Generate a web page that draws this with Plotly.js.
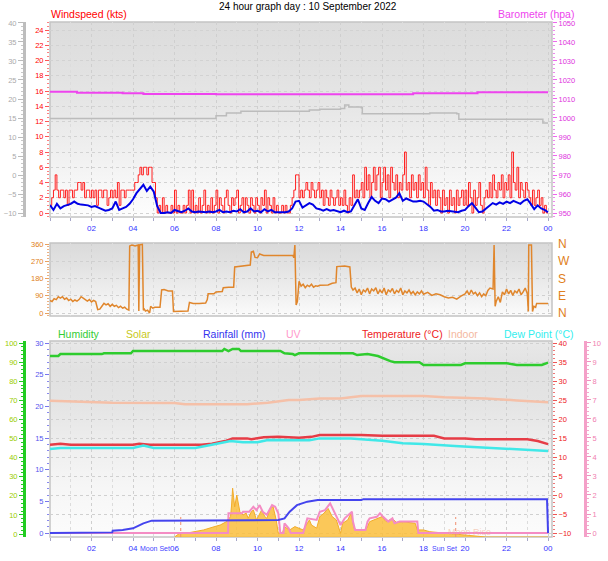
<!DOCTYPE html>
<html><head><meta charset="utf-8">
<script src="https://cdn.plot.ly/plotly-3.0.1.min.js"></script>
<style>html,body{margin:0;padding:0;background:#fff}#chart{width:608px;height:561px}</style>
</head><body><div id="chart"></div>
<script>
// ---------------- DATA ----------------
const tickHours = [2,4,6,8,10,12,14,16,18,20,22,24];
const tickLabels = ['02','04','06','08','10','12','14','16','18','20','22','00'];

// wind gust (kts), 5-minute samples from 00:00
const gustStepH = 1/12;
const gustKts = [
1,2,3,5,3,2,3,3,2,3,1,3,
3,2,3,3,4,4,3,4,2,3,3,2,
3,2,3,1,3,3,2,3,3,1,2,3,
2,3,2,4,1,3,3,2,3,3,3,3,
3,4,4,5,6,5,6,6,5,6,6,4,
4,2,0,1,0,2,0,1,0,0,1,0,
3,0,1,0,0,1,0,1,3,0,3,0,
1,0,2,0,1,3,0,1,0,2,0,1,
3,0,2,1,0,2,3,1,0,2,1,2,
3,0,1,2,0,2,1,0,2,1,0,2,
1,0,2,1,3,0,2,1,0,2,0,1,
0,0,1,0,1,0,0,1,2,3,5,5,
2,3,2,3,4,3,2,4,3,2,3,4,
2,3,1,3,2,1,3,2,1,2,3,1,
2,1,3,1,0,2,1,5,2,3,2,3,
4,2,6,3,5,2,4,6,3,5,6,2,
4,6,3,5,2,6,4,3,5,2,4,3,
5,8,3,4,2,5,3,4,2,5,3,4,
2,6,3,1,4,2,3,1,3,2,0,3,
1,2,0,3,1,2,0,3,1,2,3,1,
3,1,4,2,0,3,1,2,4,1,0,2,
3,2,4,2,5,3,2,4,3,5,2,4,
3,5,2,8,4,3,6,2,4,3,2,4,
3,2,1,3,1,2,3,1,2,0,1,0,
0];

// average wind speed (kts), 10-minute samples from 00:00
const avgStepH = 1/6;
const avgKts = [
1.05,0.4,1.2,0.6,0.9,1.0,
1.2,1.5,1.2,1.1,1.0,1.0,
0.8,0.9,0.7,0.5,0.3,0.4,
0.6,1.5,0.4,0.6,0.8,1.2,
1.8,2.6,3.2,3.7,2.9,3.45,
2.8,0.9,0.0,0.0,0.1,0.0,
0.4,0.2,0.1,0.3,0.6,0.2,
0.1,0.2,0.1,0.1,0.2,0.1,
0.2,0.4,0.1,0.2,0.1,0.3,
0.2,0.5,0.1,0.2,0.6,0.2,
0.3,0.1,0.5,0.2,0.4,0.1,
0.1,0.1,0.1,0.2,0.6,1.5,
1.6,0.7,1.0,1.3,1.1,0.6,
0.5,0.3,0.5,0.3,0.4,0.2,
0.1,0.3,0.1,0.2,1.0,1.8,
0.6,0.4,1.3,2.1,1.6,1.3,
1.9,1.8,1.5,1.7,2.0,2.6,
1.6,1.9,1.7,1.5,1.5,1.6,
1.5,1.2,0.8,0.3,0.4,0.2,
0.2,0.3,0.2,0.2,0.1,0.3,
0.4,0.9,1.3,0.7,0.1,0.2,
0.6,0.9,1.3,1.1,1.4,1.2,
1.5,1.3,1.6,1.4,1.2,1.6,
1.8,1.2,0.5,1.0,0.6,0.4,
0.1];

// grey series (left grey scale)
const greyHours = [0,7.5,8.0,8.5,9.0,9.2,12.0,12.5,13.0,14.0,14.2,14.4,15.0,15.05,18.3,19.6,19.7,23.7,23.75,24.0];
const greyVals  = [14.9,14.9,15.6,16.3,16.3,16.8,16.8,17.1,17.3,17.5,18.4,17.9,17.7,16.1,16.3,16.1,14.7,14.7,13.7,13.7];

// barometer (hpa)
const baroHours = [0,1.3,3.5,4.5,8.0,12.0,17.5,20.5,20.6,24.0];
const baroHpa   = [1013.8,1013.3,1013.0,1012.6,1012.5,1012.5,1013.0,1013.0,1013.6,1013.6];

// wind direction (degrees)
const dirHours = [0.00,0.10,0.20,0.30,0.40,0.50,0.60,0.70,0.80,0.90,1.00,1.10,1.20,1.30,1.40,1.50,1.60,1.70,1.80,1.90,2.00,2.10,2.20,2.30,2.40,2.50,2.60,2.70,2.80,2.90,3.00,3.10,3.20,3.30,3.40,3.50,3.60,3.70,3.80,3.84,3.95,4.10,4.25,4.28,4.32,4.45,4.50,4.55,4.60,4.70,4.80,4.85,4.95,5.05,5.20,5.30,5.38,5.50,5.70,5.90,5.95,6.20,6.50,6.65,6.72,6.90,7.20,7.50,7.58,7.62,7.90,8.00,8.30,8.35,8.60,8.85,8.90,9.20,9.50,9.65,9.70,9.80,9.88,10.00,10.10,10.20,10.30,11.70,11.75,11.80,11.86,11.92,12.00,12.10,12.20,12.30,12.40,12.50,12.60,12.70,12.80,12.90,13.00,13.40,13.60,13.78,13.82,14.20,14.45,14.52,14.60,14.70,14.80,14.90,15.00,15.10,15.20,15.30,15.40,15.50,15.60,15.70,15.80,15.90,16.00,16.10,16.20,16.30,16.40,16.50,16.60,16.70,16.80,16.90,17.00,17.10,17.20,17.30,17.40,17.50,17.60,17.70,17.80,17.90,18.00,18.20,18.40,18.60,18.80,19.00,19.20,19.40,19.60,19.80,20.00,20.10,20.20,20.30,20.40,20.50,20.60,20.70,20.80,20.90,21.00,21.10,21.20,21.35,21.40,21.45,21.50,21.60,21.70,21.80,21.90,22.00,22.10,22.20,22.30,22.40,22.50,22.60,22.70,22.80,22.90,23.00,23.05,23.07,23.20,23.25,23.32,23.40,23.45,24.00];
const dirDeg = [65,60,75,70,85,78,85,72,78,65,72,60,68,62,70,85,78,70,62,70,58,66,60,18,20,35,50,42,48,35,45,35,40,28,35,25,30,20,15,350,355,350,355,10,355,358,15,20,10,15,0,35,25,30,28,30,120,122,115,115,8,8,8,10,55,50,50,52,70,100,100,110,112,132,135,135,240,245,248,250,318,322,290,288,308,305,300,300,288,355,42,60,165,140,150,132,145,138,150,135,142,140,145,146,155,158,242,245,240,135,120,130,105,125,95,120,110,130,100,125,115,132,100,120,105,130,95,120,110,128,100,118,108,130,95,115,105,120,100,112,95,110,100,115,98,108,92,100,95,85,78,82,72,88,100,115,95,120,100,108,90,105,85,100,90,118,130,125,355,35,60,85,55,110,95,125,100,118,92,115,105,125,95,110,130,100,8,355,355,8,35,30,50,50];

// humidity (%)
const humHours = [0,0.4,0.5,2.5,2.6,3.9,4.0,8.3,8.4,8.6,8.8,9.1,9.2,11.1,11.3,11.7,11.8,12.0,14.6,14.8,15.3,15.8,16.4,16.6,17.8,18.0,19.8,20.0,22.0,22.5,23.7,24.0];
const humPct   = [93.2,93.2,94.2,94.2,94.6,94.6,95.8,95.8,96.9,95.8,96.9,96.9,95.8,95.8,94.6,94.2,93.7,94.6,94.6,93.7,94.2,93.2,90.5,89.9,89.9,88.5,88.5,89.4,89.4,88.5,88.5,89.7];

// outdoor temperature (°C)
const tempHours = [0,0.5,1.0,4.0,4.3,4.8,7.3,7.8,8.5,8.8,9.5,9.7,10.3,11.0,12.0,12.6,13.0,15.0,16.0,18.5,19.0,20.0,20.5,23.0,23.5,24.0];
const tempC     = [13.2,13.5,13.2,13.2,13.5,13.2,13.2,13.5,14.3,14.9,14.9,14.7,15.2,15.3,15.1,15.3,15.8,15.8,15.6,15.6,14.9,14.9,14.7,14.7,14.2,13.4];

// dew point (°C)
const dewHours = [0,0.5,4.0,4.5,5.0,7.0,7.8,8.7,9.3,10.0,10.5,12.0,12.5,13.0,14.5,15.0,16.0,17.0,18.0,19.5,21.0,22.0,23.0,24.0];
const dewC     = [12.1,12.4,12.4,13.0,12.4,12.4,13.2,14.2,13.9,13.9,14.5,14.3,14.4,14.9,14.9,14.7,14.3,13.6,13.4,12.9,12.5,12.3,12.0,11.6];

// indoor temperature (°C)
const indoorHours = [0,3.0,6.0,6.5,9.5,10.5,11.5,12.0,13.0,14.0,15.0,18.0,19.0,21.0,22.5,24.0];
const indoorC     = [24.8,24.3,24.2,23.9,23.9,24.3,25.0,25.0,25.4,25.4,26.05,26.05,25.7,25.4,24.9,24.4];

// rainfall (mm, cumulative)
const rainHours = [0,2.0,2.02,3.0,3.02,3.5,4.0,4.5,4.9,11.0,11.3,11.55,11.9,12.4,12.9,15.0,15.1,23.95,24.0];
const rainMm    = [0,0,0.1,0.1,0.36,0.47,0.74,1.53,1.95,2.05,2.3,3.36,4.4,4.95,5.2,5.2,5.35,5.35,0];

// solar radiation (W/m²)
const solarHours = [6.0,6.25,6.6,7.2,7.4,7.9,8.2,8.5,8.7,8.75,8.8,8.85,8.9,9.0,9.1,9.15,9.3,9.45,9.55,9.7,9.8,9.95,10.2,10.35,10.45,10.6,10.75,10.9,11.0,11.2,11.3,11.55,11.8,12.0,12.2,12.5,12.6,12.85,13.0,13.2,13.4,13.6,13.8,14.0,14.1,14.35,14.5,14.65,14.8,15.2,15.3,15.4,15.75,16.0,16.2,16.5,16.7,17.0,17.35,17.6,17.7,18.0,18.3,18.8,19.3,19.6,20.0,20.5,21.0,24.0];
const solarWm2   = [0,19,20,32,36,52,61,78,104,163,249,200,154,214,150,129,112,122,95,129,138,87,138,104,95,146,155,87,20,20,52,36,53,45,36,87,61,45,104,121,146,104,87,19,70,87,121,44,36,36,53,78,95,104,78,95,73,78,73,70,36,36,27,22,19,14,10,5,0,0];

// UV index
const uvHours = [0,8.58,8.6,9.25,9.3,9.6,9.8,9.95,10.1,10.25,10.45,10.7,10.85,11.0,11.1,11.25,11.3,11.5,11.6,12.2,12.4,12.85,13.0,13.25,13.5,13.65,13.8,14.0,14.2,14.55,14.6,14.7,15.2,15.3,15.4,15.75,15.9,16.05,16.3,16.5,16.6,16.85,17.7,17.75,24.0];
const uvIdx   = [0,0,1.04,1.04,1.12,1.12,1.38,1.2,1.47,1.12,0.96,1.47,1.38,1.04,0,0,0.51,0.25,0,0,0.77,0.69,1.12,1.2,1.56,1.2,0.85,0.42,0.77,1.12,0.6,0.16,0.16,0.6,0.77,0.85,1.04,0.85,0.6,0.77,0.51,0.6,0.6,0,0];

// astronomical events
const eventNames = ['Moon Set','Sun Set'];
const eventHours = [6.3, 19.55];
const moonRiseHour = 20.2;

// ---------------- HELPERS ----------------
const W = 608, H = 561;
const px = v => v / W;
const py = v => 1 - v / H;
const seq = (n, step) => Array.from({length: n}, (_, i) => i * step);

const P1 = [py(217), py(22)];
const P2 = [py(316), py(243)];
const P3 = [py(537), py(341)];
const XD = [px(50), px(552)];
const FONT = 'Liberation Sans, Arial, sans-serif';

function grad(stops) {
  const s = stops.map(([o, c]) => `<stop offset="${o}" stop-color="${c}"/>`).join('');
  const svg = `<svg xmlns="http://www.w3.org/2000/svg" width="10" height="100" viewBox="0 0 10 100" preserveAspectRatio="none"><defs><linearGradient id="g" x1="0" y1="0" x2="0" y2="1">${s}</linearGradient></defs><rect x="0" y="0" width="10" height="100" fill="url(#g)"/></svg>`;
  return 'data:image/svg+xml;base64,' + btoa(svg);
}
function bgImage(dom, stops) {
  return {source: grad(stops), xref: 'paper', yref: 'paper', x: XD[0], y: dom[1],
    sizex: XD[1] - XD[0], sizey: dom[1] - dom[0], sizing: 'stretch', xanchor: 'left', yanchor: 'top', layer: 'below'};
}

// ---------------- TRACES ----------------
const traces = [
  {x: seq(gustKts.length, gustStepH), y: gustKts, xaxis: 'x', yaxis: 'y', mode: 'lines',
   line: {color: '#ff2020', width: 1, shape: 'hv'}, hoverinfo: 'skip'},
  {x: seq(avgKts.length, avgStepH), y: avgKts, xaxis: 'x', yaxis: 'y', mode: 'lines',
   line: {color: '#0000e6', width: 2}, hoverinfo: 'skip'},
  {x: greyHours, y: greyVals, xaxis: 'x', yaxis: 'y2', mode: 'lines',
   line: {color: '#bcbcbc', width: 1.5, shape: 'hv'}, hoverinfo: 'skip'},
  {x: baroHours, y: baroHpa, xaxis: 'x', yaxis: 'y3', mode: 'lines',
   line: {color: '#ee44ee', width: 2, shape: 'hv'}, hoverinfo: 'skip'},
  {x: dirHours, y: dirDeg, xaxis: 'x2', yaxis: 'y4', mode: 'lines',
   line: {color: '#e0862c', width: 1.5}, hoverinfo: 'skip'},
  {x: [0], y: [0], xaxis: 'x2', yaxis: 'y5', mode: 'markers', marker: {opacity: 0}, hoverinfo: 'skip'},
  {x: solarHours, y: solarWm2, xaxis: 'x3', yaxis: 'y6', mode: 'lines', fill: 'tozeroy',
   fillcolor: 'rgba(250,190,60,0.85)', line: {color: '#f2ac2a', width: 1}, hoverinfo: 'skip'},
  {x: uvHours, y: uvIdx, xaxis: 'x3', yaxis: 'y7', mode: 'lines',
   line: {color: '#f48cc4', width: 2}, hoverinfo: 'skip'},
  {x: rainHours, y: rainMm, xaxis: 'x3', yaxis: 'y8', mode: 'lines',
   line: {color: '#4444ee', width: 2}, hoverinfo: 'skip'},
  {x: humHours, y: humPct, xaxis: 'x3', yaxis: 'y9', mode: 'lines',
   line: {color: '#2ecc2e', width: 2.5}, hoverinfo: 'skip'},
  {x: indoorHours, y: indoorC, xaxis: 'x3', yaxis: 'y10', mode: 'lines',
   line: {color: '#f5c0a8', width: 2.5}, hoverinfo: 'skip'},
  {x: tempHours, y: tempC, xaxis: 'x3', yaxis: 'y10', mode: 'lines',
   line: {color: '#e63c46', width: 2.5}, hoverinfo: 'skip'},
  {x: dewHours, y: dewC, xaxis: 'x3', yaxis: 'y10', mode: 'lines',
   line: {color: '#40e8e8', width: 2.5}, hoverinfo: 'skip'}
];

// ---------------- LAYOUT ----------------
const tf = (c, s) => ({family: FONT, size: s || 7.5, color: c});
const minorT = (d, c, len) => ({dtick: d, tick0: 0, ticks: 'outside', ticklen: len || 2, tickcolor: c, showgrid: false});
const xBase = (anchor, labels) => ({
  domain: XD, range: [0, 24.19], anchor: anchor, tickvals: tickHours, ticktext: tickLabels,
  showticklabels: labels, tickfont: tf('#3333ff', 8), ticks: labels ? 'outside' : '', ticklen: 3, tickcolor: '#a8a8c8',
  showgrid: true, gridcolor: '#cfcfcf', griddash: 'dot', gridwidth: 1, zeroline: false, showline: false, fixedrange: true,
  minor: {dtick: 1, tick0: 0, ticks: labels ? 'outside' : '', ticklen: 3, tickcolor: '#a8a8c8', showgrid: true, gridcolor: '#dcdcdc', griddash: 'dot'}
});

const textAnn = (txt, x, y, color, size, anchor) => ({text: txt, x: px(x), y: py(y), xref: 'paper', yref: 'paper',
  showarrow: false, xanchor: anchor || 'left', yanchor: 'middle', font: {family: FONT, size: size || 10.5, color: color}, borderpad: 0});

const annotations = [
  textAnn('24 hour graph day : 10 September 2022', 308, 6, '#000000', 10, 'center'),
  textAnn('Windspeed (kts)', 50, 14, '#ff0000'),
  textAnn('Barometer (hpa)', 497, 14, '#ee44ee'),
  textAnn('Humidity', 57, 334, '#33cc33'),
  textAnn('Solar', 125, 334, '#c8c820'),
  textAnn('Rainfall (mm)', 202, 334, '#3333ee'),
  textAnn('UV', 285, 334, '#ff99cc'),
  textAnn('Temperature (°C)', 361, 334, '#ee2222'),
  textAnn('Indoor', 447, 334, '#f4b8a0'),
  textAnn('Dew Point (°C)', 503, 334, '#33eeee'),
  {text: 'Moon Rise', x: moonRiseHour, xref: 'x3', y: py(532), yref: 'paper', showarrow: false, xanchor: 'center', yanchor: 'middle',
   font: {family: FONT, size: 9, color: 'rgba(240,170,140,0.55)'}}
];
const eventShift = [-26, -11];
eventNames.forEach((n, i) => annotations.push({text: n, x: eventHours[i], xref: 'x3', y: py(548), yref: 'paper',
  showarrow: false, xanchor: 'center', yanchor: 'middle', xshift: eventShift[i], borderpad: 0,
  font: {family: FONT, size: 7, color: '#4444ff'}}));

const shapes = [];
[P1, P2, P3].forEach(d => shapes.push({type: 'rect', xref: 'paper', yref: 'paper', x0: XD[0], x1: XD[1], y0: d[0], y1: d[1],
  line: {color: '#c4c4c4', width: 1.5}, fillcolor: 'rgba(0,0,0,0)', layer: 'below'}));
eventHours.forEach(h => shapes.push({type: 'line', xref: 'x3', yref: 'paper', x0: h, x1: h, y0: P3[0], y1: py(517),
  line: {color: '#f09070', width: 1, dash: 'dot'}, layer: 'above'}));

const layout = {
  width: W, height: H, margin: {l: 0, r: 0, t: 0, b: 0}, showlegend: false,
  paper_bgcolor: '#ffffff', plot_bgcolor: 'rgba(0,0,0,0)', font: {family: FONT},
  xaxis: xBase('y', true),
  xaxis2: xBase('y4', false),
  xaxis3: xBase('y6', true),
  yaxis: {domain: P1, anchor: 'x', range: [-0.525, 25.05], tickvals: [0,2,4,6,8,10,12,14,16,18,20,22,24],
    tickfont: tf('#ff0000'), ticks: 'outside', ticklen: 4, tickcolor: '#ff5555', minor: minorT(0.5, '#ff8080'),
    showgrid: true, gridcolor: '#d2d2d2', griddash: 'dot', zeroline: false, showline: false, fixedrange: true},
  yaxis2: {overlaying: 'y', anchor: 'free', position: px(24), side: 'left', range: [-11.05, 40.26], dtick: 5, tick0: 0,
    tickfont: tf('#aaaaaa'), ticks: 'outside', ticklen: 5, tickcolor: '#bbbbbb', minor: minorT(1, '#c8c8c8', 2.5),
    showline: true, linecolor: '#bdbdbd', linewidth: 3, showgrid: false, zeroline: false, fixedrange: true},
  yaxis3: {overlaying: 'y', anchor: 'x', side: 'right', range: [947.9, 1050.5], dtick: 10, tick0: 950,
    tickfont: tf('#dd33dd'), ticks: 'outside', ticklen: 4, tickcolor: '#ee66ee', minor: minorT(2, '#ee88ee'),
    showgrid: false, zeroline: false, fixedrange: true},
  yaxis4: {domain: P2, anchor: 'x2', range: [-15.6, 365.2], tickvals: [0, 90, 180, 270, 360],
    tickfont: tf('#e08020'), ticks: 'outside', ticklen: 4, tickcolor: '#e8a060', minor: minorT(15, '#eeb080'),
    showgrid: true, gridcolor: '#d0d0d0', griddash: 'dot', zeroline: false, fixedrange: true},
  yaxis5: {overlaying: 'y4', anchor: 'x2', side: 'right', range: [-15.6, 365.2], tickvals: [0, 90, 180, 270, 360],
    ticktext: ['N', 'E', 'S', 'W', 'N'], tickfont: tf('#e08020', 12), ticks: '', ticklabelstandoff: 5,
    showgrid: false, zeroline: false, fixedrange: true},
  yaxis6: {domain: P3, anchor: 'x3', range: [0, 1000], visible: false, fixedrange: true},
  yaxis7: {overlaying: 'y6', anchor: 'free', position: px(585), side: 'right', range: [-0.21, 10.1], dtick: 1, tick0: 0,
    tickfont: tf('#f080b0'), ticks: 'outside', ticklen: 4, tickcolor: '#f090c0', minor: minorT(0.2, '#f4a8cc'),
    showline: true, linecolor: '#f4a0c8', linewidth: 3, showgrid: false, zeroline: false, fixedrange: true},
  yaxis8: {overlaying: 'y6', anchor: 'x3', side: 'left', range: [-0.63, 30.32], dtick: 5, tick0: 0,
    tickfont: tf('#5555ee'), ticks: 'outside', ticklen: 4, tickcolor: '#7777ee', minor: minorT(1, '#8888ee'),
    showgrid: false, zeroline: false, fixedrange: true},
  yaxis9: {overlaying: 'y6', anchor: 'free', position: px(24), side: 'left', range: [-1.57, 101.05], dtick: 10, tick0: 0,
    tickfont: tf('#99cc00'), ticks: 'outside', ticklen: 4, tickcolor: '#22cc22', minor: minorT(2, '#22cc22'),
    showline: true, linecolor: '#22cc22', linewidth: 3, showgrid: false, zeroline: false, fixedrange: true},
  yaxis10: {overlaying: 'y6', anchor: 'x3', side: 'right', range: [-11.05, 40.53], dtick: 5, tick0: 0,
    tickfont: tf('#ee2222'), ticks: 'outside', ticklen: 4, tickcolor: '#ee5555', minor: minorT(1, '#ee7777'),
    showgrid: true, gridcolor: '#d0d0d0', griddash: 'dot', zeroline: false, fixedrange: true},
  images: [
    bgImage(P1, [[0, '#dcdcdc'], [0.2, '#e0e0e0'], [0.45, '#e7e7e7'], [0.7, '#f1f1f1'], [0.85, '#f8f8f8'], [1, '#fdfdfd']]),
    bgImage(P2, [[0, '#dadada'], [0.3, '#e2e2e2'], [0.65, '#eeeeee'], [1, '#fbfbfb']]),
    bgImage(P3, [[0, '#e8e8e8'], [0.15, '#e1e1e1'], [0.32, '#e4e4e4'], [0.55, '#efefef'], [0.75, '#f6f6f6'], [1, '#fcfcfc']])
  ],
  shapes: shapes,
  annotations: annotations
};

Plotly.newPlot('chart', traces, layout, {displayModeBar: false, staticPlot: true});
</script></body></html>
